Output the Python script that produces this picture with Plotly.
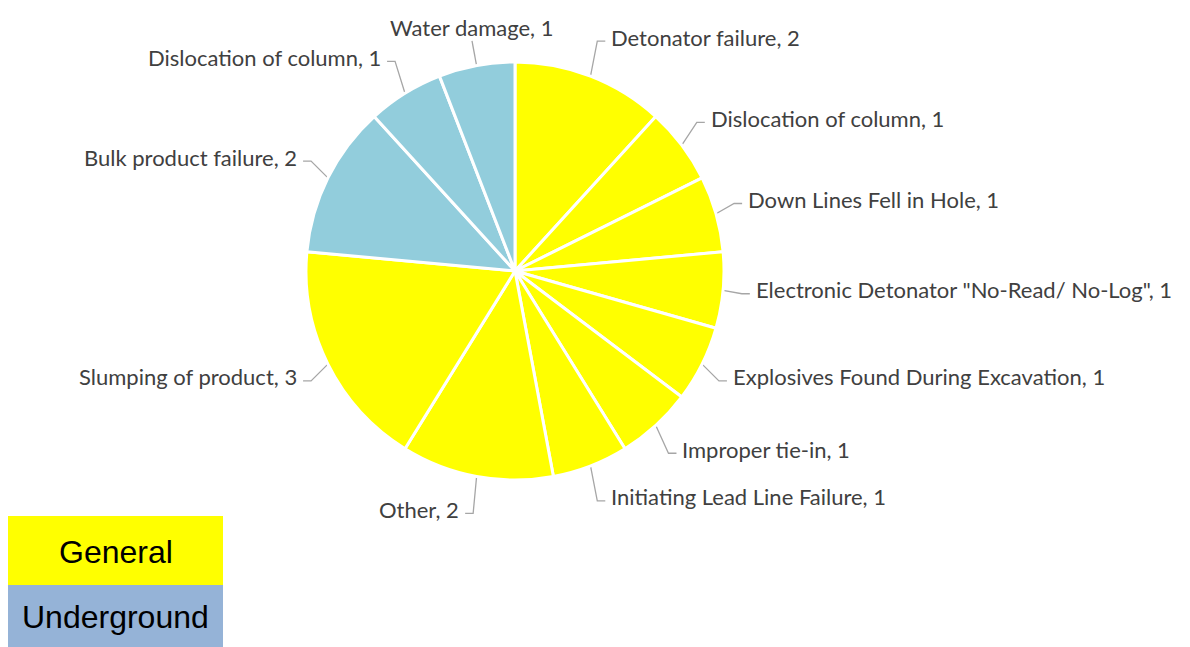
import math
import plotly.graph_objects as go

# ---- data ----
labels = ["Detonator failure", "Dislocation of column", "Down Lines Fell in Hole",
          'Electronic Detonator "No-Read/ No-Log"', "Explosives Found During Excavation",
          "Improper tie-in", "Initiating Lead Line Failure", "Other", "Slumping of product",
          "Bulk product failure", "Dislocation of column", "Water damage"]
values = [2, 1, 1, 1, 1, 1, 1, 2, 3, 2, 1, 1]
groups = ["General"] * 9 + ["Underground"] * 3
slice_colors = {"General": "#FFFF00", "Underground": "#92CDDC"}
legend_names = ["General", "Underground"]
legend_colors = ["#FFFF00", "#95B3D7"]

# ---- layout geometry (pixels, page has an 8px body margin) ----
OFF = 8
W, H = 1190 - OFF, 647 - OFF
cx, cy, R = 515 - OFF, 271 - OFF, 209
label_a = 1.09 * R      # horizontal semi-axis of label ellipse
label_b = 1.18 * R      # vertical semi-axis of label ellipse
label_top = 1.12 * R    # radius for labels centred above the pie
seg = 8
gap = 4
font_family = "Lato, 'Open Sans', sans-serif"
label_color = "#404040"
line_color = "#A6A6A6"

fig = go.Figure()

fig.add_trace(go.Pie(
    labels=[f"{i}" for i in range(len(labels))],
    values=values,
    text=labels,
    hovertemplate="%{text}: %{value}<extra></extra>",
    textinfo="none",
    sort=False,
    direction="clockwise",
    rotation=0,
    marker=dict(colors=[slice_colors[g] for g in groups], line=dict(color="white", width=3)),
    domain=dict(x=[(cx - R) / W, (cx + R) / W], y=[1 - (cy + R) / H, 1 - (cy - R) / H]),
    showlegend=False,
))

total = sum(values)
lx, ly = [], []
annotations = []
cum = 0
for lab, v in zip(labels, values):
    mid = (cum + v / 2) / total * 2 * math.pi
    cum += v
    s, c = math.sin(mid), math.cos(mid)
    ex, ey = cx + R * s, cy - R * c
    txt = f"{lab}, {v}"
    if c > 0.95:
        bx, by = cx + label_top * s, cy - label_top * c
        lx += [ex, bx, None]
        ly += [ey, by, None]
        annotations.append(dict(x=bx, y=by - 13, xref="x", yref="y", text=txt, showarrow=False,
                                xanchor="center", yanchor="middle"))
    else:
        bx, by = cx + label_a * s, cy - label_b * c
        d = 1 if s >= 0 else -1
        hx = bx + d * seg
        lx += [ex, bx, hx, None]
        ly += [ey, by, by, None]
        annotations.append(dict(x=hx + d * gap, y=by - 4, xref="x", yref="y", text=txt, showarrow=False,
                                xanchor="left" if d > 0 else "right", yanchor="middle"))

fig.add_trace(go.Scatter(x=lx, y=ly, mode="lines", line=dict(color=line_color, width=1.3),
                         hoverinfo="skip", showlegend=False))

# legend boxes
shapes = []
box_x0, box_x1, box_y0, box_h = 8 - OFF, 223 - OFF, 516 - OFF, [69, 62]
y0 = box_y0
for name, col, h in zip(legend_names, legend_colors, box_h):
    shapes.append(dict(type="rect", xref="x", yref="y", x0=box_x0, x1=box_x1, y0=y0, y1=y0 + h,
                       fillcolor=col, line=dict(width=0), layer="below"))
    annotations.append(dict(x=(box_x0 + box_x1) / 2, y=y0 + h / 2 + 1, xref="x", yref="y", text=name,
                            showarrow=False, font=dict(family="Liberation Sans, Arial", size=32, color="black")))
    y0 += h

fig.update_layout(
    width=W, height=H,
    margin=dict(l=0, r=0, t=0, b=0),
    paper_bgcolor="white", plot_bgcolor="white",
    xaxis=dict(range=[0, W], visible=False, domain=[0, 1], fixedrange=True),
    yaxis=dict(range=[H, 0], visible=False, domain=[0, 1], fixedrange=True),
    font=dict(family=font_family, size=22, color=label_color),
    shapes=shapes,
    annotations=annotations,
    showlegend=False,
)

fig.write_html("out.html")
